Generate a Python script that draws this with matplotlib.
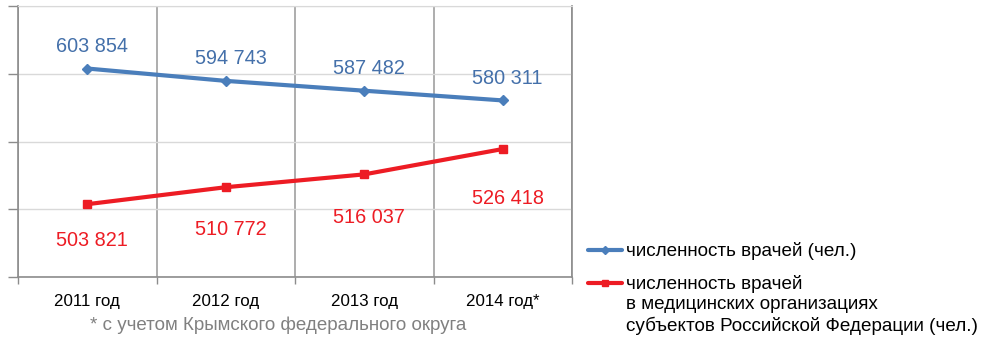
import matplotlib.pyplot as plt
from matplotlib.lines import Line2D
from matplotlib.ticker import FixedLocator, NullFormatter

plt.rcParams["font.family"] = ["Liberation Sans", "DejaVu Sans"]

years = ["2011 год", "2012 год", "2013 год", "2014 год*"]
doctors_total = [603854, 594743, 587482, 580311]
doctors_regions = [503821, 510772, 516037, 526418]

legend_total = "численность врачей (чел.)"
legend_regions = ("численность врачей\nв медицинских организациях\n"
                  "субъектов Российской Федерации (чел.)")
footnote = "* с учетом Крымского федерального округа"

blue = "#4a7ebb"
blue_txt = "#4470aa"
red = "#ed1c24"


def fmt(v):
    return f"{v:,}".replace(",", " ")


fig = plt.figure(figsize=(9.81, 3.37), dpi=100)
ax = fig.add_axes([18 / 981, 1 - 277 / 337, (572 - 18) / 981, 271 / 337])
x = list(range(len(years)))

# left (primary) scale carries the grid
ax.set_xlim(-0.5, 3.5)
ax.set_ylim(450000, 650000)
ax.set_yticks(range(450000, 650001, 50000))
ax.yaxis.set_major_formatter(NullFormatter())
ax.tick_params(axis="y", length=7, color="#8c8c8c", width=1)
ax.grid(axis="y", color="#d9d9d9", lw=1)

ax.set_xticks(x)
ax.set_xticklabels(years, fontsize=12.2)
ax.tick_params(axis="x", length=0, pad=12)
ax.xaxis.set_minor_locator(FixedLocator([-0.5, 0.5, 1.5, 2.5, 3.5]))
ax.tick_params(axis="x", which="minor", length=5, color="#8c8c8c", width=1)
ax.grid(axis="x", which="minor", color="#a0a0a0", lw=1.2)

for side in ("left", "bottom", "right"):
    ax.spines[side].set_color("#8c8c8c")
    ax.spines[side].set_linewidth(1.2)
ax.spines["top"].set_color("#d9d9d9")
ax.set_axisbelow(True)

ax.plot(x, doctors_total, color=blue, lw=3, marker="D", ms=5, zorder=3,
        solid_capstyle="round")
for xi, v in zip(x, doctors_total):
    ax.annotate(fmt(v), (xi, v), xytext=(5, 22), textcoords="offset pixels",
                ha="center", va="center", fontsize=14.3, color=blue_txt)

# second, hidden scale for the regional series
ax2 = ax.twinx()
ax2.set_ylim(474000, 585000)
ax2.axis("off")
ax2.plot(x, doctors_regions, color=red, lw=3, marker="s", ms=6, zorder=3,
         solid_capstyle="round")
red_offsets = [36, 42, 43, 49]
for xi, v, dy in zip(x, doctors_regions, red_offsets):
    ax2.annotate(fmt(v), (xi, v), xytext=(5, -dy), textcoords="offset pixels",
                 ha="center", va="center", fontsize=14.3, color=red)

fig.text(90 / 981, 1 - 325 / 337, footnote, fontsize=13.5, color="#808080",
         va="center", ha="left")

# legend drawn in figure space
def legend_entry(y_px, color, marker, ms, label):
    y = 1 - y_px / 337
    fig.add_artist(Line2D([588 / 981, 622 / 981], [y, y], color=color, lw=3,
                          solid_capstyle="round"))
    fig.add_artist(Line2D([605 / 981], [y], color=color, marker=marker, ms=ms))
    fig.text(626 / 981, y + 0.023, label, fontsize=13.6, va="top", ha="left",
             linespacing=1.22)

legend_entry(250, blue, "D", 4, legend_total)
legend_entry(283, red, "s", 5, legend_regions)

fig.savefig("out.png", dpi=100)
